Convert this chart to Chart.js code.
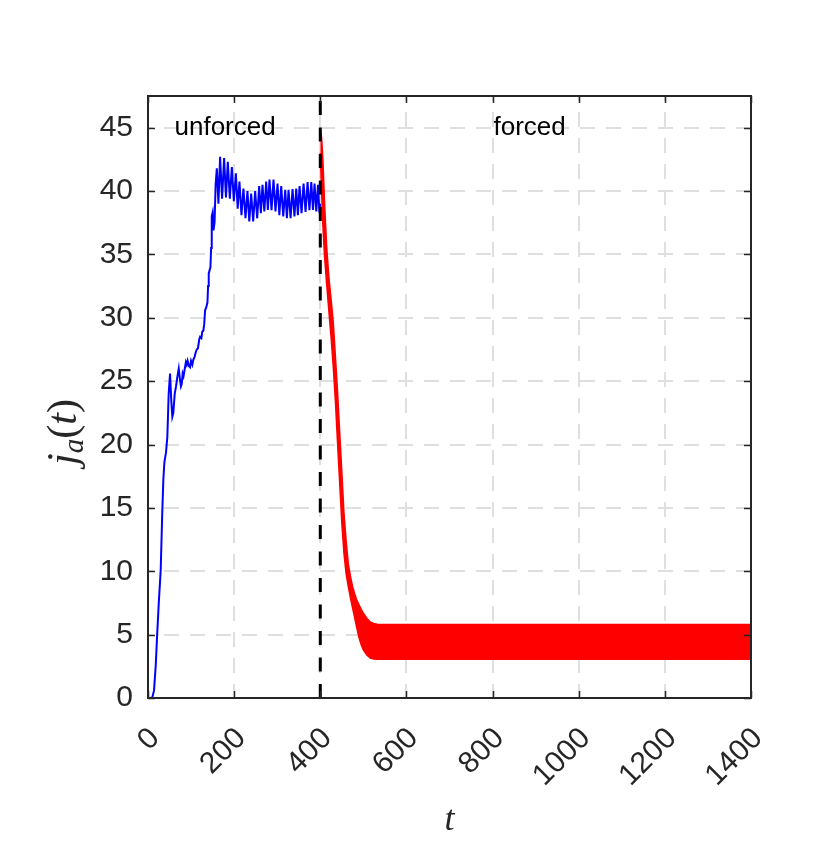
<!DOCTYPE html>
<html>
<head>
<meta charset="utf-8">
<script src="https://cdn.jsdelivr.net/npm/chart.js@4.4.0/dist/chart.umd.min.js"></script>
<style>
  html, body { margin: 0; padding: 0; background: #fff; }
  #wrap { width: 830px; height: 863px; position: relative; }
</style>
</head>
<body>
<div id="wrap"><canvas id="chart"></canvas></div>
<script>
// axis ticks
const xTicks = [0, 200, 400, 600, 800, 1000, 1200, 1400];
const yTicks = [0, 5, 10, 15, 20, 25, 30, 35, 40, 45];

// unforced run (blue)
const blueT = [0, 5, 10, 14, 18, 21, 25, 29.5, 33, 35.6, 38, 41.9, 44.9, 48, 51.2, 54, 56.5, 58.8, 62, 65.1,
  68, 71.4, 74, 76.5, 78.4, 80.5, 82.5, 85, 88, 90, 92, 95, 97.7, 100, 103, 105.3, 108, 111, 113.3, 116,
  119, 121, 124, 126, 128.6, 130.5, 132.6, 135, 138, 139.5, 141, 145, 146.5, 148, 150, 152, 154.5, 157, 159.8,
  163.5, 167.4, 172, 176.7, 181, 185.3, 190, 194.7, 199.3, 204, 208.2, 212.3, 217, 221.6, 226.3, 230.9,
  235.2, 239.5, 244.2, 248.8, 253.5, 258.1, 262, 265.8, 270.1, 274.4, 278.3, 282.1, 286.8, 291.4, 296,
  300.7, 305, 309.3, 314, 318.6, 322.5, 326.3, 331, 335.6, 340, 344.2, 348, 351.9, 356.5, 361.2, 365.8,
  370.5, 374.8, 379.1, 383, 386.7, 390.7, 394.7, 398, 400];
const blueV = [0, 0, 0.05, 0.6, 2.6, 4.8, 7.5, 10.1, 14.5, 17.2, 18.6, 19.4, 20.6, 24.0, 25.6, 23.5, 22.2, 22.5, 24.0, 24.6,
  25.3, 26.0, 25.2, 24.6, 24.8, 25.6, 25.4, 25.9, 26.5, 26.3, 26.6, 26.2, 26.1, 26.6, 26.3, 26.7, 26.9, 27.3, 27.5, 27.6,
  28.3, 28.5, 28.4, 28.9, 29.0, 29.5, 30.6, 30.8, 31.2, 32.5, 33.5, 34.0, 35.5, 38.0, 38.3, 36.9, 37.5, 40.5, 41.8,
  39.0, 42.7, 39.4, 42.6, 39.5, 42.3, 39.4, 41.9, 39.2, 41.4, 38.6, 40.75, 38.1, 40.2, 37.85, 40.0,
  37.6, 39.8, 37.6, 40.0, 37.85, 40.4, 38.25, 40.5, 38.4, 40.75, 38.5, 40.9, 38.5, 40.9, 38.4,
  40.6, 38.1, 40.4, 38.0, 40.1, 37.85, 40.1, 37.85, 40.15, 38.0, 40.2, 38.1, 40.4, 38.25, 40.6, 38.35,
  40.7, 38.5, 40.7, 38.5, 40.6, 38.4, 40.5, 38.3, 39.0];

// forced run (red): fast oscillation, kept as its upper and lower envelope
const redT     = [400, 403, 406, 410, 415, 420, 425, 430, 435, 440, 445, 450, 455, 460, 465, 470, 475, 480,
  485, 490, 495, 500, 508, 516, 524, 532, 540, 1400];
const redUpper = [44.8, 44.2, 42.5, 39.0, 35.5, 33.2, 31.5, 29.7, 27.0, 24.2, 21.0, 17.8, 14.6, 12.4, 10.6, 9.6, 8.8, 8.2,
  7.7, 7.35, 7.0, 6.7, 6.3, 6.0, 5.88, 5.82, 5.8, 5.8];
const redLower = [43.0, 40.0, 37.3, 34.8, 32.6, 30.5, 28.5, 26.2, 23.5, 20.2, 17.0, 13.8, 11.4, 9.8, 8.8, 7.9, 7.1, 6.3,
  5.5, 4.75, 4.2, 3.8, 3.4, 3.15, 3.07, 3.05, 3.05, 3.05];

const switchT = 400;
const phaseLabels = ['unforced', 'forced'];
const phaseLabelT = [179, 886];
const phaseLabelV = 45;

const AXIS = '#262626';
const SANS = '"Liberation Sans", Arial, sans-serif';
const SERIF = '"Liberation Serif", serif';
const pts = (xs, ys) => xs.map((x, i) => ({ x: x, y: ys[i] }));

const framePlugin = {
    id: 'frame',
    afterDatasetsDraw(chart) {
        const { ctx, chartArea: a, scales } = chart;
        const xs = scales.x, ys = scales.y;
        ctx.save();
        // inward ticks on all four sides
        ctx.strokeStyle = AXIS;
        ctx.lineWidth = 1.5;
        ctx.beginPath();
        xTicks.forEach(v => {
            const px = Math.round(xs.getPixelForValue(v)) + 0.5;
            ctx.moveTo(px, a.bottom); ctx.lineTo(px, a.bottom - 7);
            ctx.moveTo(px, a.top); ctx.lineTo(px, a.top + 7);
        });
        yTicks.forEach(v => {
            const py = Math.round(ys.getPixelForValue(v)) + 0.5;
            ctx.moveTo(a.left, py); ctx.lineTo(a.left + 7, py);
            ctx.moveTo(a.right, py); ctx.lineTo(a.right - 7, py);
        });
        ctx.stroke();
        // box
        ctx.lineWidth = 2;
        ctx.strokeRect(a.left, a.top, a.right - a.left, a.bottom - a.top);

        // phase annotations
        ctx.fillStyle = '#000';
        ctx.font = '26px ' + SANS;
        ctx.textAlign = 'center';
        ctx.textBaseline = 'middle';
        phaseLabels.forEach((s, i) => {
            ctx.fillText(s, xs.getPixelForValue(phaseLabelT[i]), ys.getPixelForValue(phaseLabelV));
        });
        ctx.restore();
    },
    afterDraw(chart) {
        const { ctx, chartArea: a } = chart;
        ctx.save();
        ctx.fillStyle = AXIS;
        ctx.textBaseline = 'alphabetic';
        // x title
        ctx.font = 'italic 36px ' + SERIF;
        ctx.textAlign = 'center';
        ctx.fillText('t', (a.left + a.right) / 2, 830);

        // y title j_a(t), rotated
        ctx.translate(76, (a.top + a.bottom) / 2 + 35);
        ctx.rotate(-Math.PI / 2);
        const parts = [
            { t: 'j', f: 'italic 42px ' + SERIF, dy: 0 },
            { t: 'a', f: 'italic 29px ' + SERIF, dy: 7 },
            { t: '(', f: '42px ' + SERIF, dy: 0 },
            { t: 't', f: 'italic 42px ' + SERIF, dy: 0 },
            { t: ')', f: '42px ' + SERIF, dy: 0 }
        ];
        let total = 0;
        parts.forEach(p => { ctx.font = p.f; p.w = ctx.measureText(p.t).width; total += p.w; });
        let cx = -total / 2;
        ctx.textAlign = 'left';
        parts.forEach(p => { ctx.font = p.f; ctx.fillText(p.t, cx, p.dy); cx += p.w; });
        ctx.restore();
    }
};

new Chart(document.getElementById('chart'), {
    type: 'line',
    data: {
        datasets: [
            {
                data: [{ x: switchT, y: 0 }, { x: switchT, y: 47.5 }],
                borderColor: '#000', borderWidth: 3, borderDash: [14, 12.5],
                pointRadius: 0, fill: false
            },
            {
                data: pts(blueT, blueV),
                borderColor: '#0000ff', borderWidth: 2,
                pointRadius: 0, fill: false
            },
            {
                data: pts(redT, redUpper),
                borderColor: '#ff0000', borderWidth: 1.5,
                pointRadius: 0, fill: false
            },
            {
                data: pts(redT, redLower),
                borderColor: '#ff0000', borderWidth: 1.5, backgroundColor: '#ff0000',
                pointRadius: 0, fill: '-1'
            }
        ]
    },
    options: {
        responsive: true,
        maintainAspectRatio: false,
        animation: false,
        layout: { padding: { top: 96, right: 79, left: 0, bottom: 0 } },
        plugins: { legend: { display: false }, tooltip: { enabled: false } },
        elements: { line: { tension: 0 } },
        scales: {
            x: {
                type: 'linear', min: 0, max: 1400,
                afterBuildTicks: s => { s.ticks = xTicks.map(v => ({ value: v })); },
                afterFit: s => { s.height = 165; },
                grid: { color: '#dfdfdf', lineWidth: 2, drawTicks: false },
                border: { display: false, dash: [15, 11], dashOffset: 10 },
                ticks: {
                    autoSkip: false, maxRotation: 45, minRotation: 45, padding: 23, labelOffset: 7,
                    callback: v => String(v),
                    color: AXIS, font: { family: SANS, size: 30 }
                }
            },
            y: {
                type: 'linear', min: 0, max: 47.5,
                afterBuildTicks: s => { s.ticks = yTicks.map(v => ({ value: v })); },
                afterFit: s => { s.width = 148; },
                grid: { color: '#dfdfdf', lineWidth: 2, drawTicks: false },
                border: { display: false, dash: [15, 11], dashOffset: 10 },
                ticks: {
                    padding: 15,
                    callback: v => String(v),
                    color: AXIS, font: { family: SANS, size: 30 }
                }
            }
        }
    },
    plugins: [framePlugin]
});
</script>
</body>
</html>
